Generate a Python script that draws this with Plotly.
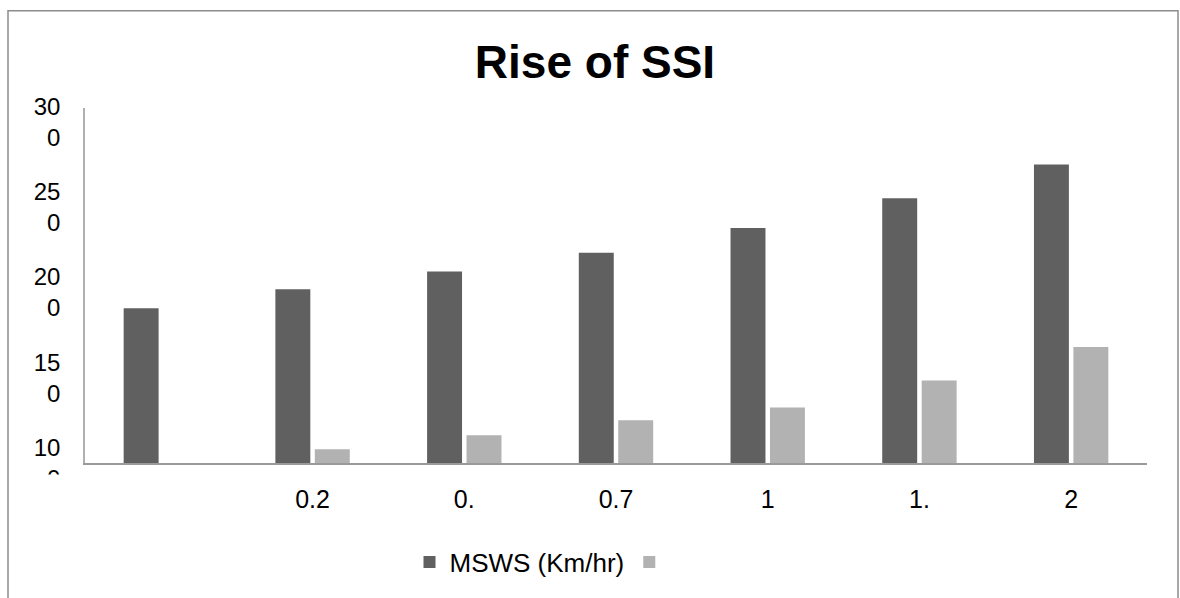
import plotly.graph_objects as go

# ---- data ----
categories = ["", "0.2", "0.", "0.7", "1", "1.", "2"]
msws_values = [190.7, 201.9, 212.2, 223.3, 237.8, 255.2, 275.0]
second_values = [None, 108.1, 116.3, 125.0, 132.6, 148.3, 168.0]
y_tick_vals = [100, 150, 200, 250, 300]
y_tick_text = ["10<br>0", "15<br>0", "20<br>0", "25<br>0", "30<br>0"]

# ---- layout geometry (pixels) ----
W, H = 1180, 598
PL, PR, PT, PB = 85, 1147, 108, 466
FONT = "Liberation Sans, Arial, sans-serif"


def pxx(px):
    return (px - PL) / (PR - PL)


def pxy(py):
    return (PB - py) / (PB - PT)


xpos = list(range(len(categories)))

fig = go.Figure()
fig.add_trace(go.Bar(x=xpos, y=msws_values, name="MSWS (Km/hr)",
                     marker=dict(color="#606060", line=dict(width=0))))
fig.add_trace(go.Bar(x=xpos, y=second_values, name="",
                     marker=dict(color="#b2b2b2", line=dict(width=0))))

fig.update_layout(
    width=W, height=H,
    margin=dict(l=PL, r=W - PR, t=PT, b=H - PB, pad=0),
    paper_bgcolor="white", plot_bgcolor="white",
    barmode="group", bargap=0.48, bargroupgap=0.114,
    font=dict(family=FONT, color="black", size=25),
    title=dict(text="Rise of SSI", x=595 / W, xanchor="center",
               y=1 - 62 / H, yanchor="middle",
               font=dict(family=FONT, size=46, weight="bold", color="black")),
    showlegend=True,
    legend=dict(orientation="h", x=pxx(542), xanchor="center",
                y=pxy(566), yanchor="middle",
                font=dict(family=FONT, size=26, color="black"),
                bgcolor="rgba(0,0,0,0)"),
    xaxis=dict(range=[-0.5, len(categories) - 0.5], tickmode="array",
               tickvals=xpos, ticktext=categories, showgrid=False,
               zeroline=False, showline=True, linecolor="#9a9a9a",
               linewidth=2, ticks="", ticklabelstandoff=13,
               tickfont=dict(family=FONT, size=25, color="black")),
    yaxis=dict(range=[100, 308.1], tickmode="array", tickvals=y_tick_vals,
               ticktext=y_tick_text, showgrid=False, zeroline=False,
               showline=True, linecolor="#b0b0b0", linewidth=1.5,
               ticks="", ticklabelstandoff=18,
               tickfont=dict(family=FONT, size=24, color="black")),
    shapes=[
        # cover that clips the lowest tick label
        dict(type="rect", xref="paper", yref="paper", layer="above",
             x0=pxx(12), x1=pxx(80), y0=pxy(620), y1=pxy(477.5),
             fillcolor="white", line=dict(width=0)),
        # outer chart frame
        dict(type="rect", xref="paper", yref="paper", layer="above",
             x0=pxx(8), x1=pxx(1178), y0=pxy(640), y1=pxy(10),
             fillcolor="rgba(0,0,0,0)", line=dict(color="#8c8c8c", width=1.5)),
    ],
)

fig.write_html("out.html")
